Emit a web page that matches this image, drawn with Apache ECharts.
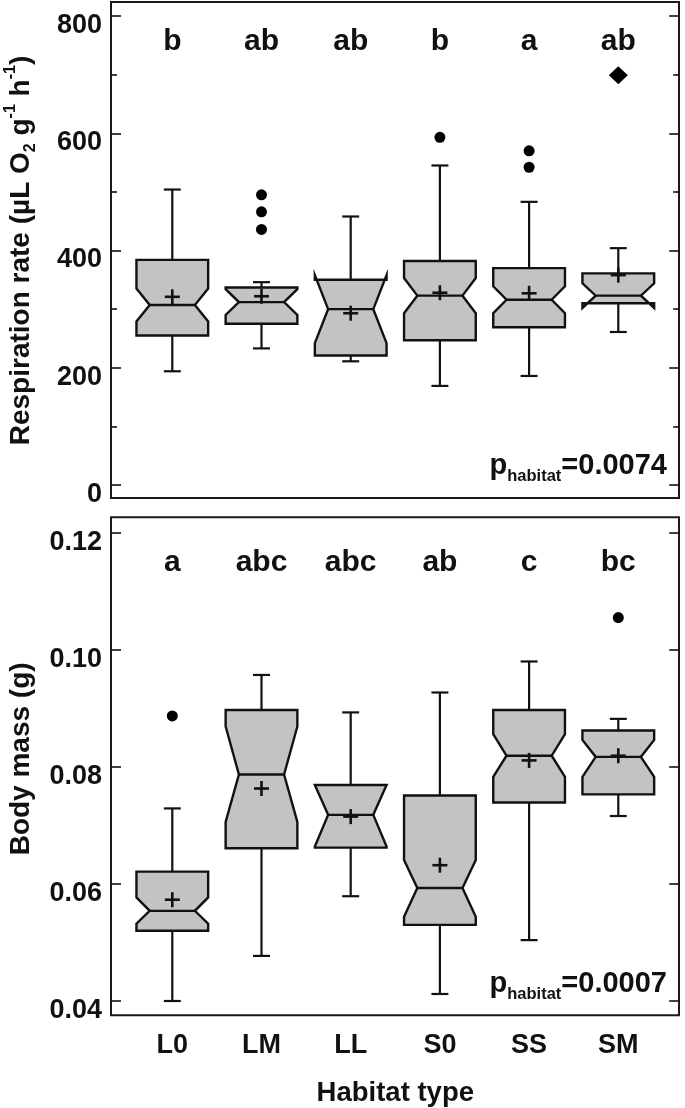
<!DOCTYPE html>
<html><head><meta charset="utf-8">
<script src="https://cdn.jsdelivr.net/npm/echarts@6/dist/echarts.min.js"></script>
<style>html,body{margin:0;padding:0;background:#fff}#c{width:685px;height:1108px}</style>
</head><body><div id="c"></div>
<script>
const categories = ['L0', 'LM', 'LL', 'S0', 'SS', 'SM'];

// Respiration rate (µL O2 g-1 h-1)
const respWhiskerLow  = [194, 233, 211, 169, 186, 261];
const respQ1          = [255, 275, 221, 247, 269, 310];
const respNotchLow    = [279, 290, 242, 293, 293, 302];
const respMedian      = [307, 312, 300, 323, 316, 323];
const respNotchHigh   = [335, 334, 358, 353, 339, 344];
const respQ3          = [384, 337, 350, 382, 370, 361];
const respWhiskerHigh = [504, 346, 458, 545, 483, 404];
const respMean        = [321, 322, 293, 328, 327, 358];
const respOutliers    = [[], [436, 466, 495], [], [593], [542, 570], []];
const respExtremes    = [[], [], [], [], [], [699]];
const respLetters     = ['b', 'ab', 'ab', 'b', 'a', 'ab'];
const respTicks       = [0, 200, 400, 600, 800];
const respP           = '=0.0074';

// Body mass (g)
const massWhiskerLow  = [0.0400, 0.0477, 0.0579, 0.0412, 0.0504, 0.0716];
const massQ1          = [0.0520, 0.0661, 0.0662, 0.0530, 0.0739, 0.0753];
const massNotchLow    = [0.0532, 0.0706, 0.0664, 0.0544, 0.0783, 0.0783];
const massMedian      = [0.0554, 0.0787, 0.0718, 0.0593, 0.0819, 0.0817];
const massNotchHigh   = [0.0577, 0.0869, 0.0769, 0.0641, 0.0856, 0.0846];
const massQ3          = [0.0621, 0.0897, 0.0769, 0.0751, 0.0897, 0.0862];
const massWhiskerHigh = [0.0729, 0.0957, 0.0893, 0.0927, 0.0980, 0.0882];
const massMean        = [0.0573, 0.0763, 0.0715, 0.0632, 0.0811, 0.0819];
const massOutliers    = [[0.0887], [], [], [], [], [0.1055]];
const massLetters     = ['a', 'abc', 'abc', 'ab', 'c', 'bc'];
const massTicks       = ['0.04', '0.06', '0.08', '0.10', '0.12'];
const massP           = '=0.0007';

const FONT = '"Liberation Sans", Arial, Helvetica, sans-serif';
const INK = '#111';

function boxRows(wl, q1, nl, md, nh, q3, wh, mn) {
  return categories.map((c, i) => [i, wl[i], q1[i], nl[i], md[i], nh[i], q3[i], wh[i], mn[i]]);
}
function pointRows(groups) {
  const out = [];
  groups.forEach((arr, i) => arr.forEach(v => out.push([i, v])));
  return out;
}

function renderBox(params, api) {
  const i = api.value(0);
  const band = api.size([1, 0])[0];
  const cx = api.coord([i, api.value(4)])[0];
  const Y = k => api.coord([i, api.value(k)])[1];
  const wLo = Y(1), q1 = Y(2), nLo = Y(3), med = Y(4), nHi = Y(5), q3 = Y(6), wHi = Y(7), mean = Y(8);
  const half = band * 0.402, ind = half * 0.37, cap = band * 0.095, plus = band * 0.084;
  const L = cx - half, R = cx + half;
  const ls = { stroke: INK, lineWidth: 2.2 };
  return {
    type: 'group',
    children: [
      { type: 'line', shape: { x1: cx, y1: q3, x2: cx, y2: wHi }, style: ls },
      { type: 'line', shape: { x1: cx - cap, y1: wHi, x2: cx + cap, y2: wHi }, style: ls },
      { type: 'line', shape: { x1: cx, y1: q1, x2: cx, y2: wLo }, style: ls },
      { type: 'line', shape: { x1: cx - cap, y1: wLo, x2: cx + cap, y2: wLo }, style: ls },
      { type: 'polygon', shape: { points: [[L, q1], [L, nLo], [L + ind, med], [L, nHi], [L, q3], [R, q3], [R, nHi], [R - ind, med], [R, nLo], [R, q1]] },
        style: { fill: '#c3c3c3', stroke: INK, lineWidth: 2.4, lineJoin: 'miter' } },
      { type: 'line', shape: { x1: L + ind, y1: med, x2: R - ind, y2: med }, style: { stroke: INK, lineWidth: 2.4 } },
      { type: 'line', shape: { x1: cx - plus, y1: mean, x2: cx + plus, y2: mean }, style: { stroke: INK, lineWidth: 2.6 } },
      { type: 'line', shape: { x1: cx, y1: mean - plus, x2: cx, y2: mean + plus }, style: { stroke: INK, lineWidth: 2.6 } }
    ]
  };
}

function letterRenderer(letters, level) {
  return function (params, api) {
    const i = api.value(0);
    const p = api.coord([i, level]);
    return { type: 'text', x: p[0], y: p[1],
      style: { text: letters[params.dataIndex], font: 'bold 30px ' + FONT, fill: INK, align: 'center', verticalAlign: 'middle' } };
  };
}

const labelStyle = { fontFamily: FONT, fontWeight: 'bold', fontSize: 27, color: INK };
const richName = {
  t: { fontFamily: FONT, fontWeight: 'bold', fontSize: 28, color: INK, lineHeight: 36 },
  sub: { fontFamily: FONT, fontWeight: 'bold', fontSize: 16, color: INK, verticalAlign: 'bottom', lineHeight: 16 },
  sup: { fontFamily: FONT, fontWeight: 'bold', fontSize: 16, color: INK, verticalAlign: 'top', lineHeight: 16 }
};

const respMin = respTicks[0], respMax = respTicks[respTicks.length - 1], respInt = respTicks[1] - respTicks[0];
const massMin = +massTicks[0], massMax = +massTicks[massTicks.length - 1], massInt = +(massTicks[1] - massTicks[0]).toFixed(4);

const frameGrid = { show: true, borderColor: '#1a1a1a', borderWidth: 2, backgroundColor: 'transparent', outerBoundsMode: 'none', containLabel: false };
const dataGrid = { outerBoundsMode: 'none', containLabel: false };
const hiddenAxis = (gi) => ({ type: 'value', gridIndex: gi, show: false, min: 0, max: 1 });

function valueAxis(gi, min, max, interval, side, withLabels, fmt, name, minor, namePad) {
  return {
    type: 'value', gridIndex: gi, position: side, min, max, interval,
    offset: side === 'left' ? 16.7 : 16.3,
    axisLine: { show: false },
    axisTick: { show: true, inside: true, length: 10, lineStyle: { color: INK, width: 1.6 } },
    minorTick: { show: minor, splitNumber: 2, length: 6, lineStyle: { color: INK, width: 1.6 } },
    splitLine: { show: false }, minorSplitLine: { show: false },
    axisLabel: withLabels ? Object.assign({ margin: 9, formatter: fmt, verticalAlign: 'top', lineHeight: 19 }, labelStyle) : { show: false },
    name: name || '', nameLocation: 'middle', nameGap: 72, nameRotate: 90,
    nameTextStyle: { rich: richName, padding: namePad || 0 }
  };
}

const pRich = {
  p: { fontFamily: FONT, fontWeight: 'bold', fontSize: 29, fill: INK, lineHeight: 38 },
  s: { fontFamily: FONT, fontWeight: 'bold', fontSize: 16.5, fill: INK, verticalAlign: 'bottom', lineHeight: 17 }
};

const option = {
  animation: false,
  backgroundColor: '#fff',
  grid: [
    Object.assign({ left: 111, top: 2, width: 568, height: 496 }, frameGrid),
    Object.assign({ left: 127.7, top: 16, width: 535.2, height: 469 }, dataGrid),
    Object.assign({ left: 111, top: 517.3, width: 568, height: 498 }, frameGrid),
    Object.assign({ left: 127.7, top: 532.7, width: 535.2, height: 468.3 }, dataGrid)
  ],
  xAxis: [
    hiddenAxis(0),
    { type: 'category', gridIndex: 1, data: categories, boundaryGap: true,
      axisLine: { show: false }, axisTick: { show: false }, axisLabel: { show: false } },
    hiddenAxis(2),
    { type: 'category', gridIndex: 3, data: categories, boundaryGap: true, offset: 14.3,
      axisLine: { show: false }, axisTick: { show: false },
      axisLabel: Object.assign({ margin: 17 }, labelStyle),
      name: 'Habitat type', nameLocation: 'middle', nameGap: 64,
      nameTextStyle: { fontFamily: FONT, fontWeight: 'bold', fontSize: 27.5, color: INK } }
  ],
  yAxis: [
    hiddenAxis(0),
    valueAxis(1, respMin, respMax, respInt, 'left', true, v => String(v),
      '{t|Respiration rate (µL O}{sub|2}{t| g}{sup|-1}{t| h}{sup|-1}{t|)}', true),
    valueAxis(1, respMin, respMax, respInt, 'right', false, null, '', true),
    hiddenAxis(2),
    valueAxis(3, massMin, massMax, massInt, 'left', true, v => v.toFixed(2), '{t|Body mass (g)}', false, [0, 0, 0, 16]),
    valueAxis(3, massMin, massMax, massInt, 'right', false, null, '', false)
  ],
  series: [
    { type: 'custom', xAxisIndex: 1, yAxisIndex: 1, renderItem: renderBox, z: 3,
      data: boxRows(respWhiskerLow, respQ1, respNotchLow, respMedian, respNotchHigh, respQ3, respWhiskerHigh, respMean) },
    { type: 'scatter', xAxisIndex: 1, yAxisIndex: 1, symbol: 'circle', symbolSize: 11, z: 4,
      itemStyle: { color: '#000', opacity: 1 }, data: pointRows(respOutliers) },
    { type: 'scatter', xAxisIndex: 1, yAxisIndex: 1, symbol: 'diamond', symbolSize: [19, 18], z: 4,
      itemStyle: { color: '#000', opacity: 1 }, data: pointRows(respExtremes) },
    { type: 'custom', xAxisIndex: 1, yAxisIndex: 1, renderItem: letterRenderer(respLetters, 756), z: 5,
      data: respLetters.map((l, i) => [i]) },
    { type: 'custom', xAxisIndex: 3, yAxisIndex: 4, renderItem: renderBox, z: 3,
      data: boxRows(massWhiskerLow, massQ1, massNotchLow, massMedian, massNotchHigh, massQ3, massWhiskerHigh, massMean) },
    { type: 'scatter', xAxisIndex: 3, yAxisIndex: 4, symbol: 'circle', symbolSize: 11, z: 4,
      itemStyle: { color: '#000', opacity: 1 }, data: pointRows(massOutliers) },
    { type: 'custom', xAxisIndex: 3, yAxisIndex: 4, renderItem: letterRenderer(massLetters, 0.1148), z: 5,
      data: massLetters.map((l, i) => [i]) }
  ],
  graphic: [
    { type: 'text', x: 667, y: 466, z: 10,
      style: { text: '{p|p}{s|habitat}{p|' + respP + '}', align: 'right', verticalAlign: 'middle', rich: pRich } },
    { type: 'text', x: 667, y: 984, z: 10,
      style: { text: '{p|p}{s|habitat}{p|' + massP + '}', align: 'right', verticalAlign: 'middle', rich: pRich } }
  ]
};

const chart = echarts.init(document.getElementById('c'), null, { renderer: 'canvas' });
chart.setOption(option);
</script>
</body></html>
